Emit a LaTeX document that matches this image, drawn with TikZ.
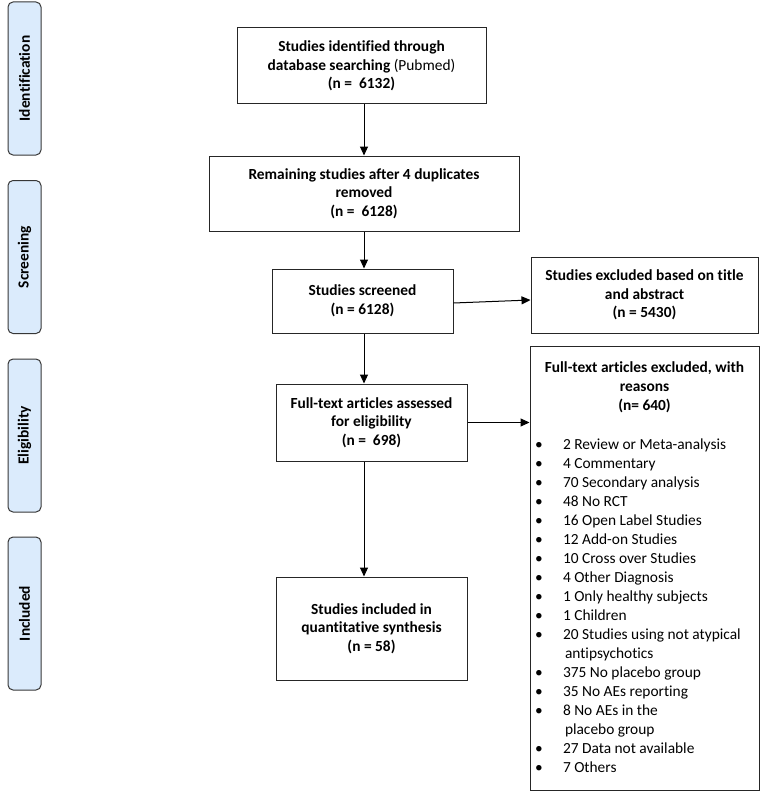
\documentclass[tikz,border=0pt]{standalone}
\usepackage{fontspec}
\setmainfont{Carlito}[Ligatures=NoCommon]
\usetikzlibrary{arrows.meta}
\definecolor{sidefill}{RGB}{219,235,252}
\definecolor{sidedraw}{RGB}{55,55,55}
\newcommand\bitem[1]{\noindent\hspace*{5pt}\makebox[28pt][l]{\textbullet}#1\par}
\newcommand\bcont[1]{\noindent\hspace*{35pt}#1\par}
\begin{document}
\begin{tikzpicture}[x=1pt,y=-1pt,
  box/.style={draw=black!85,line width=1pt,fill=white,align=center,
    font=\fontsize{15.4}{18.7}\selectfont\bfseries,inner sep=0pt},
  side/.style={draw=sidedraw,line width=1pt,fill=sidefill,rounded corners=5pt,
    rotate=90,minimum width=153pt,minimum height=33pt,inner sep=0pt,
    font=\fontsize{15.4}{18}\selectfont\bfseries},
  arr/.style={line width=1pt,-{Triangle[length=9pt,width=8pt]}}]
\useasboundingbox (0,0) rectangle (765,797);

% phase labels
\node[side] (sid) at (24.5,78.5) {Identification};
\node[side] (ssc) at (24.5,257) {Screening};
\node[side] (sel) at (24.5,435.5) {Eligibility};
\node[side] (sin) at (24.5,613.5) {Included};

% main column
\node[box,minimum width=249pt,minimum height=76pt] (b1) at (361.5,66)
  {Studies identified through\\database searching {\mdseries(Pubmed)}\\(n = \ 6132)};
\node[box,minimum width=310pt,minimum height=75pt] (b2) at (364,193.5)
  {Remaining studies after 4 duplicates\\removed\\(n = \ 6128)};
\node[box,minimum width=181pt,minimum height=64pt] (b3) at (362.5,301)
  {Studies screened\\(n = 6128)};
\node[box,minimum width=191pt,minimum height=77pt] (b4) at (371.5,422.5)
  {Full-text articles assessed\\for eligibility\\(n = \ 698)};
\node[box,minimum width=191pt,minimum height=103pt] (b5) at (371.5,628.5)
  {Studies included in\\quantitative synthesis\\(n = 58)};

% exclusions
\node[box,minimum width=227pt,minimum height=76pt] (ex1) at (644.5,295)
  {Studies excluded based on title\\and abstract\\(n = 5430)};
\node[box,align=left,font=\fontsize{15.4}{19}\selectfont] (ex2) at (644.5,568)
  {\begin{minipage}[c][444pt][t]{229pt}
   \vspace*{16pt}
   {\centering\bfseries Full-text articles excluded, with\\reasons\\(n= 640)\par}
   \vspace{20pt}
   \bitem{2 Review or Meta-analysis}
   \bitem{4 Commentary}
   \bitem{70 Secondary analysis}
   \bitem{48 No RCT}
   \bitem{16 Open Label Studies}
   \bitem{12 Add-on Studies}
   \bitem{10 Cross over Studies}
   \bitem{4 Other Diagnosis}
   \bitem{1 Only healthy subjects}
   \bitem{1 Children}
   \bitem{20 Studies using not atypical}
   \bcont{antipsychotics}
   \bitem{375 No placebo group}
   \bitem{35 No AEs reporting}
   \bitem{8 No AEs in the}
   \bcont{placebo group}
   \bitem{27 Data not available}
   \bitem{7 Others}
   \end{minipage}};

% connectors
\coordinate (ax) at (364,0);
\draw[arr] (b1.south -| ax) -- (b2.north -| ax);
\draw[arr] (b2.south -| ax) -- (b3.north -| ax);
\draw[arr] (b3.south -| ax) -- (b4.north -| ax);
\draw[arr] (b4.south -| ax) -- (b5.north -| ax);
\draw[arr] ([yshift=-2pt]b3.east) -- ([yshift=-5pt]ex1.west);
\draw[arr] (b4.east) -- (b4.east -| ex2.west);
\end{tikzpicture}
\end{document}
